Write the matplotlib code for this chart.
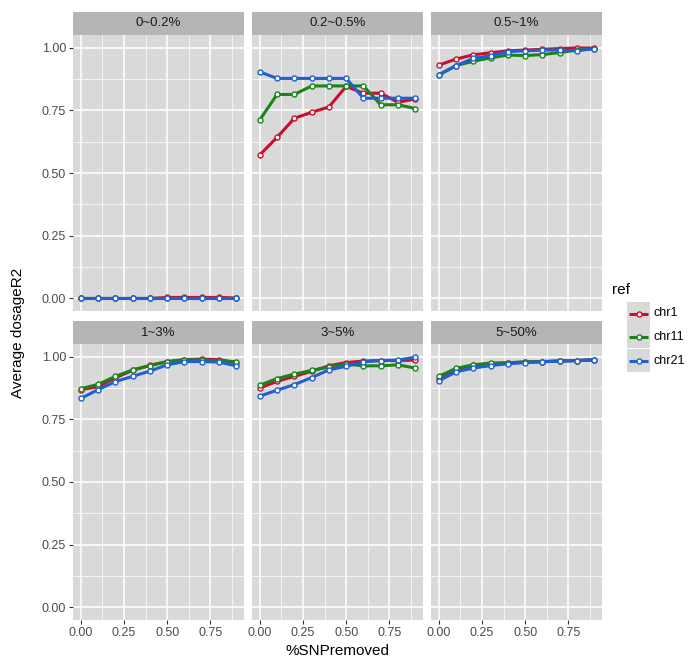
import matplotlib
matplotlib.use("Agg")
import matplotlib.pyplot as plt
import numpy as np

plt.rcParams['font.family'] = ['Liberation Sans', 'DejaVu Sans']

x = [0.0, 0.1, 0.2, 0.3, 0.4, 0.5, 0.6, 0.7, 0.8, 0.9]
panels = ["0~0.2%", "0.2~0.5%", "0.5~1%", "1~3%", "3~5%", "5~50%"]
series_names = ["chr1", "chr11", "chr21"]
series_colors = ["#C8102E", "#1A841A", "#1F5FD2"]

chr1 = [
    [0, 0, 0, 0, 0, 0.004, 0.004, 0.004, 0.004, 0.002],
    [0.572, 0.642, 0.718, 0.742, 0.763, 0.845, 0.818, 0.818, 0.782, 0.795],
    [0.930, 0.954, 0.971, 0.979, 0.987, 0.990, 0.993, 0.996, 0.998, 0.998],
    [0.868, 0.880, 0.915, 0.945, 0.965, 0.980, 0.988, 0.990, 0.988, 0.975],
    [0.875, 0.901, 0.921, 0.941, 0.963, 0.976, 0.982, 0.984, 0.984, 0.986],
    [0.912, 0.950, 0.965, 0.972, 0.975, 0.978, 0.980, 0.982, 0.984, 0.987],
]
chr11 = [
    [0, 0, 0, 0, 0, 0, 0, 0, 0, 0],
    [0.712, 0.813, 0.813, 0.847, 0.847, 0.847, 0.847, 0.772, 0.772, 0.757],
    [0.890, 0.928, 0.945, 0.959, 0.970, 0.968, 0.972, 0.980, 0.990, 0.995],
    [0.872, 0.889, 0.921, 0.947, 0.964, 0.979, 0.987, 0.987, 0.983, 0.980],
    [0.886, 0.912, 0.930, 0.945, 0.958, 0.970, 0.963, 0.963, 0.967, 0.954],
    [0.921, 0.953, 0.967, 0.974, 0.975, 0.979, 0.980, 0.982, 0.984, 0.987],
]
chr21 = [
    [0, 0, 0, 0, 0, 0, 0, 0, 0, 0],
    [0.903, 0.877, 0.877, 0.877, 0.877, 0.877, 0.798, 0.798, 0.798, 0.798],
    [0.892, 0.928, 0.957, 0.967, 0.984, 0.987, 0.990, 0.990, 0.987, 0.996],
    [0.833, 0.868, 0.900, 0.921, 0.942, 0.967, 0.980, 0.980, 0.978, 0.963],
    [0.842, 0.866, 0.888, 0.916, 0.947, 0.961, 0.979, 0.984, 0.986, 0.997],
    [0.903, 0.939, 0.954, 0.964, 0.971, 0.976, 0.979, 0.982, 0.984, 0.987],
]
series_values = [chr1, chr11, chr21]

x_ticks = [0.0, 0.25, 0.5, 0.75]
x_ticklabels = ["0.00", "0.25", "0.50", "0.75"]
y_ticks = [0.0, 0.25, 0.5, 0.75, 1.0]
y_ticklabels = ["0.00", "0.25", "0.50", "0.75", "1.00"]

W, H = 697, 670
fig = plt.figure(figsize=(W / 100, H / 100), dpi=100)

PANEL_BG = "#D9D9D9"
STRIP_BG = "#B5B5B5"
TEXT_COL = "#4D4D4D"

col_x = [(73, 244), (252, 423), (431, 602)]
row_y = [(35, 311), (344, 620)]
strip_h = 23


def fr(x0, y0, x1, y1):
    return [x0 / W, 1 - y1 / H, (x1 - x0) / W, (y1 - y0) / H]


for i, name in enumerate(panels):
    r, c = divmod(i, 3)
    x0, x1 = col_x[c]
    y0, y1 = row_y[r]
    ax = fig.add_axes(fr(x0, y0, x1, y1))
    ax.set_facecolor(PANEL_BG)
    for s in ax.spines.values():
        s.set_visible(False)
    ax.set_xlim(-0.045, 0.945)
    ax.set_ylim(-0.05, 1.05)
    ax.set_xticks(x_ticks)
    ax.set_yticks(y_ticks)
    ax.set_xticks([0.125, 0.375, 0.625, 0.875], minor=True)
    ax.set_yticks([0.125, 0.375, 0.625, 0.875], minor=True)
    ax.grid(True, which='major', color='white', lw=1.1)
    ax.grid(True, which='minor', color='white', lw=0.5)
    ax.set_axisbelow(True)
    ax.tick_params(which='minor', length=0)
    ax.tick_params(which='major', length=3, color='#333333', width=0.8,
                   labelsize=9, labelcolor=TEXT_COL, pad=2)
    if r == 1:
        ax.set_xticklabels(x_ticklabels)
    else:
        ax.tick_params(axis='x', length=0, labelbottom=False)
    if c == 0:
        ax.set_yticklabels(y_ticklabels)
    else:
        ax.tick_params(axis='y', length=0, labelleft=False)

    for vals, col in zip(series_values, series_colors):
        ax.plot(x, vals[i], color=col, lw=2.2, marker='o', ms=3.6,
                mfc='white', mec=col, mew=1.0, solid_capstyle='butt',
                zorder=3)

    sax = fig.add_axes(fr(x0, y0 - strip_h, x1, y0))
    sax.set_facecolor(STRIP_BG)
    sax.set_xticks([])
    sax.set_yticks([])
    for s in sax.spines.values():
        s.set_visible(False)
    sax.text(0.5, 0.5, name, ha='center', va='center', fontsize=9.5,
             color='#1A1A1A', transform=sax.transAxes)

# axis titles
fig.text(18 / W, 1 - 333 / H, "Average dosageR2", rotation=90, ha='center',
         va='center', fontsize=11, color='black')
fig.text(338 / W, 1 - 651 / H, "%SNPremoved", ha='center', va='center',
         fontsize=11, color='black')

# legend
fig.text(612 / W, 1 - 290 / H, "ref", ha='left', va='center', fontsize=11)
key_tops = [302, 325, 349]
for name, col, top in zip(series_names, series_colors, key_tops):
    kax = fig.add_axes(fr(627, top, 650, top + 23))
    kax.set_facecolor(PANEL_BG)
    kax.set_xticks([])
    kax.set_yticks([])
    for s in kax.spines.values():
        s.set_visible(False)
    kax.set_xlim(0, 1)
    kax.set_ylim(0, 1)
    kax.plot([0.08, 0.92], [0.5, 0.5], color=col, lw=2.2, solid_capstyle='butt')
    kax.plot([0.5], [0.5], marker='o', ms=3.6, mfc='white', mec=col, mew=1.0)
    fig.text(654 / W, 1 - (top + 11.5) / H, name, ha='left', va='center',
             fontsize=9, color='black')

fig.savefig("out.png", dpi=100, facecolor='white')
